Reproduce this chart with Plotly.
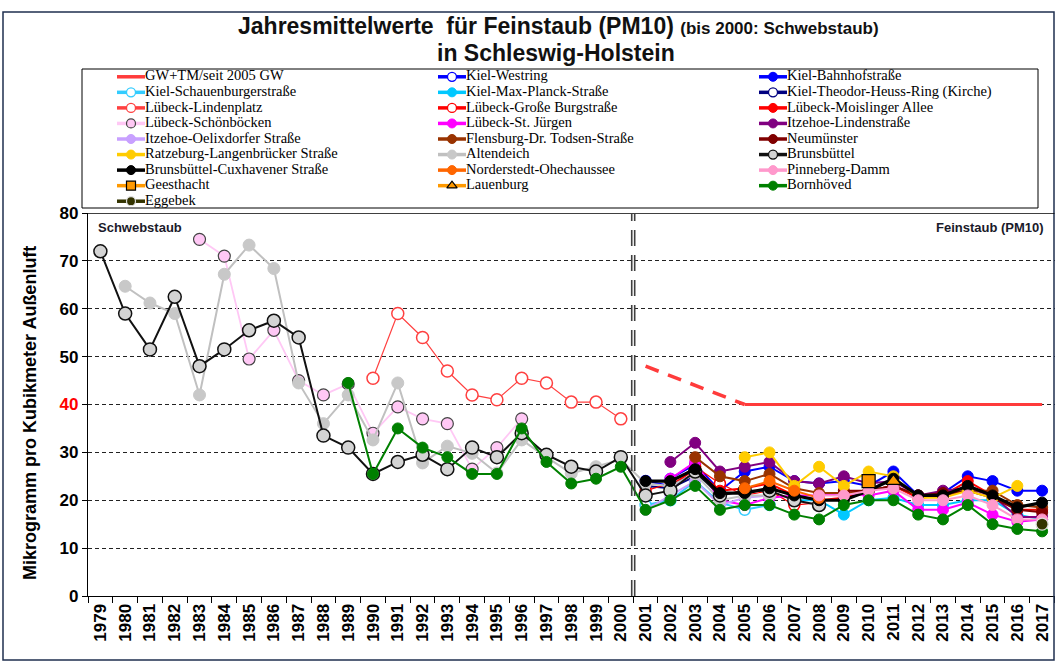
import plotly.graph_objects as go

# ---------------- data ----------------
years = [str(y) for y in range(1979, 2018)]
y_ticks = [0, 10, 20, 30, 40, 50, 60, 70, 80]

# each series: (first year, yearly values)
gw_tm = (2001, [48, 46, 44, 42, 40, 40, 40, 40, 40, 40, 40, 40, 40, 40, 40, 40, 40])
kiel_westring = (2001, [24, 23, 25.5, 22])
kiel_bahnhof = (2002, [24.5, 27.5, 22, 26, 27, 24, 23.5, 24, 23, 26, 21, 21.5, 25, 24, 22, 22])
kiel_schauenburger = (2001, [19, 20, 24, 19.5, 18, 19])
kiel_maxplanck = (2007, [20, 20, 17, 20, 20.5, 19, 19, 20, 20, 17, 16])
kiel_theodor = (2001, [23, 22.5, 25])
luebeck_linden = (1990, [45.5, 59, 54, 47, 42, 41, 45.5, 44.5, 40.5, 40.5, 37])
luebeck_burg = (2001, [22, 23.5, 27, 23.5, 21, 22, 19, 19.5])
luebeck_moisling = (2002, [23, 26.5, 22, 22.5, 23.5, 21, 20, 20.5, 22, 23, 20.5, 21, 24, 21, 18, 18])
luebeck_schoen = (1983, [74.5, 71, 49.5, 55.5, 45, 42, 44.3, 34, 39.5, 37, 36, 26.5, 31, 37])
luebeck_juergen = (2002, [24.5, 28, 20, 19, 20.5, 21, 21, 21.5, 21, 22, 18, 18, 19.5, 17, 15.5, 16])
itzehoe_linden = (2002, [28, 32, 26, 27, 28, 24, 23.5, 25, 23.5, 24, 21, 22, 22.5, 21, 16.5, 16.5])
itzehoe_oelix = (2001, [18, 21, 24, 19, 20.5, 21])
flensburg = (2003, [29, 25, 24, 25.5, 22.5, 21.5, 21.5, 22, 23, 21, 21, 22, 22, 19, 18.5])
neumuenster = (2009, [22, 22, 23, 21, 21.5, 22, 20.5, 18, 17.5])
ratzeburg = (2005, [29, 30, 23, 27, 23, 26, 25, 20.5, 20.5, 22, 20.5, 23])
altendeich = (1980, [64.7, 61.2, 59, 42, 67.2, 73.3, 68.4, 44.5, 36, 42, 32.6, 44.5, 27.8, 31.3, 29.8,
                     25.7, 32.6, 29, 25.6, 27, 28.5, 23.5, 23, 25.5, 20, 21, 21])
brunsbuettel = (1979, [72, 59, 51.5, 62.5, 48, 51.5, 55.5, 57.5, 54, 33.5, 31, 25.5, 28, 29.5, 26.5,
                       31, 29, 34, 29.5, 27, 26, 29, 21, 22, 26, 21, 22, 22, 20, 19])
brunsbuettel_cux = (2001, [24, 24, 26.5, 21.5, 21.5, 22.5, 21, 20, 20, 22, 24.5, 21, 21, 23, 21, 18.5, 19.5])
norderstedt = (2005, [22.5, 24, 22, 20.5])
pinneberg = (2008, [21, 21, 22, 22.5, 20, 20, 21, 19, 16, 16])
geesthacht = (2010, [24])
lauenburg = (2011, [24])
bornhoeved = (1989, [44.5, 25.5, 35, 31, 29, 25.5, 25.5, 35, 28, 23.5, 24.5, 27,
                     18, 20, 23, 18, 19, 19, 17, 16, 19, 20, 20, 17, 16, 19, 15, 14, 13.5])
eggebek = (2017, [15])

names = ["GW+TM/seit 2005 GW", "Kiel-Westring", "Kiel-Bahnhofstraße",
         "Kiel-Schauenburgerstraße", "Kiel-Max-Planck-Straße", "Kiel-Theodor-Heuss-Ring (Kirche)",
         "Lübeck-Lindenplatz", "Lübeck-Große Burgstraße", "Lübeck-Moislinger Allee",
         "Lübeck-Schönböcken", "Lübeck-St. Jürgen", "Itzehoe-Lindenstraße",
         "Itzehoe-Oelixdorfer Straße", "Flensburg-Dr. Todsen-Straße", "Neumünster",
         "Ratzeburg-Langenbrücker Straße", "Altendeich", "Brunsbüttel",
         "Brunsbüttel-Cuxhavener Straße", "Norderstedt-Ohechaussee", "Pinneberg-Damm",
         "Geesthacht", "Lauenburg", "Bornhöved", "Eggebek"]
series = [gw_tm, kiel_westring, kiel_bahnhof, kiel_schauenburger, kiel_maxplanck, kiel_theodor,
          luebeck_linden, luebeck_burg, luebeck_moisling, luebeck_schoen, luebeck_juergen,
          itzehoe_linden, itzehoe_oelix, flensburg, neumuenster, ratzeburg, altendeich,
          brunsbuettel, brunsbuettel_cux, norderstedt, pinneberg, geesthacht, lauenburg,
          bornhoeved, eggebek]

# ---------------- styles ----------------
def st(color, width=2, symbol="circle", fill=None, outline=None, ow=1, size=11, lsize=9):
    return dict(color=color, width=width, symbol=symbol, fill=fill if fill else color,
                outline=outline if outline else (fill if fill else color), ow=ow, size=size, lsize=lsize)

styles = [
    dict(color="#ff3b3b", width=3, symbol=None),
    st("#0000ff", fill="white", outline="#0000ff", ow=1.5),
    st("#0000ff"),
    st("#33ccff", fill="white", outline="#33ccff", ow=1.5),
    st("#00c8ff"),
    st("#000080", fill="white", outline="#000080", ow=1.5),
    st("#ff4040", width=1.2, fill="white", outline="#ff4040", ow=1.5, size=12),
    st("#ff0000", width=1.2, fill="white", outline="#ff0000", ow=1.5),
    st("#ff0000"),
    st("#ffc8f5", width=1.8, fill="#ffc8f5", outline="#444444", ow=1.2, size=12),
    st("#ff00ff"),
    st("#800080"),
    st("#c8a0ff"),
    st("#993300"),
    st("#800000"),
    st("#ffcc00"),
    st("#c0c0c0", width=2, fill="#c8c8c8", outline="#c8c8c8", size=12),
    st("#111111", width=2, fill="#d4d4d4", outline="#111111", ow=1.5, size=13),
    st("#000000", width=3.2),
    st("#ff6600"),
    st("#ff99cc"),
    st("#ff9900", symbol="square", outline="#000000", ow=1.2, size=13),
    st("#ff9900", symbol="triangle-up", outline="#000000", ow=1.2, size=13),
    st("#008000"),
    st("#333300", outline="#dddddd", ow=1.2, size=12),
]

fig = go.Figure()

def xs_of(start, n):
    i = years.index(str(start))
    return years[i:i + n]

# ---------------- data traces ----------------
for name, (start, vals), s in zip(names, series, styles):
    x = xs_of(start, len(vals))
    if s["symbol"] is None:
        # GW+TM: dashed until 2005, solid afterwards
        k = x.index("2005")
        fig.add_trace(go.Scatter(x=x[:k + 1], y=vals[:k + 1], mode="lines", name=name,
                                 line=dict(color=s["color"], width=3.5, dash="14px,10px"),
                                 showlegend=False, hoverinfo="skip"))
        fig.add_trace(go.Scatter(x=x[k:], y=vals[k:], mode="lines", name=name,
                                 line=dict(color=s["color"], width=3),
                                 showlegend=False))
        continue
    fig.add_trace(go.Scatter(
        x=x, y=vals, mode="lines+markers", name=name, showlegend=False,
        line=dict(color=s["color"], width=s["width"]),
        marker=dict(symbol=s["symbol"], size=s["size"], color=s["fill"],
                    line=dict(color=s["outline"], width=s["ow"]))))

# ---------------- legend (drawn in its own hidden axes, 3 columns) ----------------
LEG_X0, LEG_DX, LEG_LEN = 117, 321, 28
for k, (name, s) in enumerate(zip(names, styles)):
    col, row = k % 3, k // 3
    x0 = LEG_X0 + col * LEG_DX
    fig.add_trace(go.Scatter(
        x=[x0, x0 + LEG_LEN], y=[row, row], mode="lines+text", text=["", name],
        textposition="middle right",
        textfont=dict(family="Liberation Serif", size=14.5, color="#000000"),
        line=dict(color=s["color"], width=3.5), xaxis="x2", yaxis="y2",
        showlegend=False, hoverinfo="skip"))
    if s["symbol"] is not None:
        fig.add_trace(go.Scatter(
            x=[x0 + LEG_LEN / 2], y=[row], mode="markers", xaxis="x2", yaxis="y2",
            marker=dict(symbol=s["symbol"], size=s["lsize"], color=s["fill"],
                        line=dict(color=s["outline"], width=min(s["ow"], 1.3))),
            showlegend=False, hoverinfo="skip"))

W, H = 1055, 661
px = lambda v: v / W
py = lambda v: 1 - v / H

ticktext = ["<span style='color:#ff0000'>40</span>" if v == 40 else str(v) for v in y_ticks]

fig.update_layout(
    template="none",
    width=W, height=H, autosize=False,
    margin=dict(l=0, r=0, t=0, b=0, pad=0),
    paper_bgcolor="white", plot_bgcolor="white",
    font=dict(family="Liberation Sans", color="#000000"),
    showlegend=False,
    xaxis=dict(domain=[px(88), px(1054.5)], type="category", categoryorder="array",
               categoryarray=years, range=[-0.5, len(years) - 0.5],
               tickangle=-90, tickfont=dict(size=17, weight="bold", color="#000"),
               ticks="outside", tickson="boundaries", ticklen=6, tickcolor="#000",
               showline=True, linecolor="#000", linewidth=1.2, showgrid=False,
               zeroline=False, automargin=False, anchor="y"),
    yaxis=dict(domain=[py(596), py(213)], range=[0, 80], tickvals=y_ticks, ticktext=ticktext,
               tickfont=dict(size=17, weight="bold", color="#000"),
               ticks="outside", ticklen=5, tickcolor="#000",
               showline=True, linecolor="#000", linewidth=1.2,
               showgrid=True, gridcolor="#222222", gridwidth=1, griddash="4px,3px",
               zeroline=False, automargin=False, anchor="x"),
    xaxis2=dict(domain=[0, 1], range=[0, W], visible=False, anchor="y2", fixedrange=True),
    yaxis2=dict(domain=[py(209), py(69)], range=[8.5, -0.5], visible=False, anchor="x2",
                fixedrange=True),
)

shapes = [
    # outer frame
    dict(type="rect", xref="paper", yref="paper", x0=px(3), x1=px(1054), y0=py(660), y1=py(12),
         line=dict(color="#1f2f4f", width=1.5)),
    # legend box
    dict(type="rect", xref="paper", yref="paper", x0=px(82), x1=px(1038), y0=py(208), y1=py(69),
         line=dict(color="#000000", width=1)),
    # top border of the plot area
    dict(type="line", xref="x domain", yref="y", x0=0, x1=1, y0=80, y1=80,
         line=dict(color="#000000", width=1.5)),
]
# double dashed divider between 2000 and 2001
div = years.index("2000") + 0.5
for off in (-0.06, 0.06):
    shapes.append(dict(type="line", xref="x", yref="y domain", x0=div + off, x1=div + off,
                       y0=0, y1=1, line=dict(color="#404040", width=1.6, dash="16px,9px")))
fig.update_layout(shapes=shapes)

fig.update_layout(annotations=[
    dict(xref="paper", yref="paper", x=px(558), y=py(26), xanchor="center", yanchor="middle",
         showarrow=False,
         text="<b>Jahresmittelwerte  für Feinstaub (PM10) <span style='font-size:17px'>(bis 2000: Schwebstaub)</span></b>",
         font=dict(size=23, color="#111111", family="Liberation Sans")),
    dict(xref="paper", yref="paper", x=px(556), y=py(53), xanchor="center", yanchor="middle",
         showarrow=False, text="<b>in Schleswig-Holstein</b>",
         font=dict(size=23, color="#111111", family="Liberation Sans")),
    dict(xref="paper", yref="paper", x=px(30), y=py(413), xanchor="center", yanchor="middle",
         showarrow=False, textangle=-90, text="<b>Mikrogramm pro Kubikmeter Außenluft</b>",
         font=dict(size=18, color="#000000", family="Liberation Sans")),
    dict(xref="paper", yref="paper", x=px(96), y=py(227), xanchor="left", yanchor="middle",
         showarrow=False, text="<b>Schwebstaub</b>",
         font=dict(size=13, color="#1a1a2a", family="Liberation Sans")),
    dict(xref="paper", yref="paper", x=px(1046), y=py(227), xanchor="right", yanchor="middle",
         showarrow=False, text="<b>Feinstaub (PM10)</b>",
         font=dict(size=13, color="#1a1a2a", family="Liberation Sans")),
])

fig.write_html("out.html", config={"displayModeBar": False},
               post_script="document.body.style.margin='0';document.body.style.overflow='hidden';")
